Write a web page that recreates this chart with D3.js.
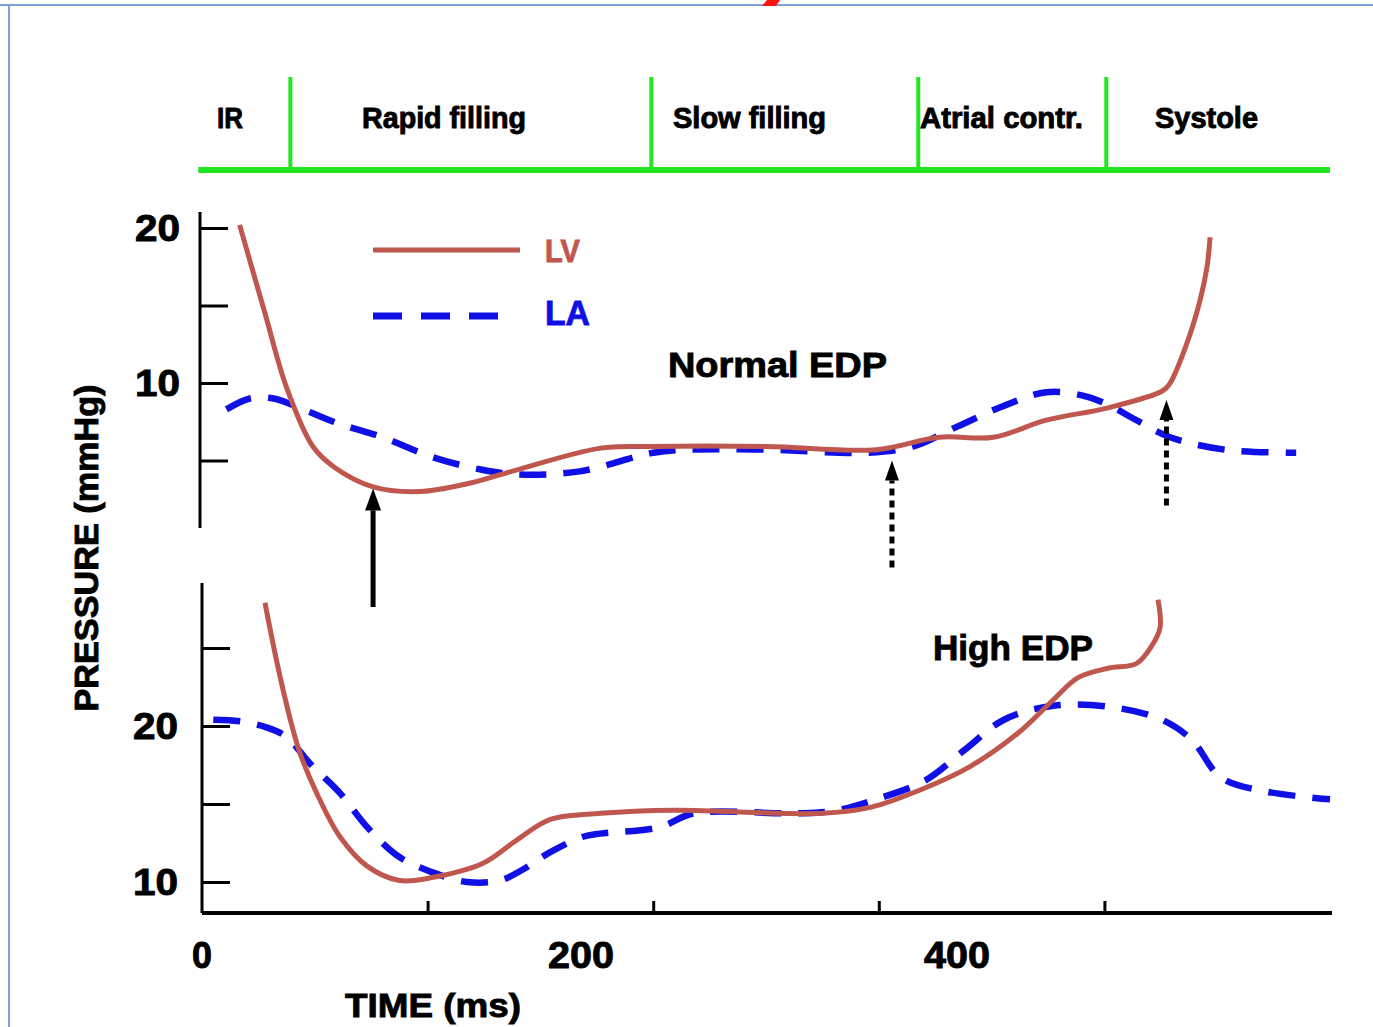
<!DOCTYPE html>
<html>
<head>
<meta charset="utf-8">
<script src="https://cdn.jsdelivr.net/npm/d3@7"></script>
<style>
  html, body { margin: 0; padding: 0; background: #fff; }
  svg { display: block; }
  text { font-family: "Liberation Sans", Arial, sans-serif; font-weight: bold; }
</style>
</head>
<body>
<svg id="chart" width="1373" height="1027"></svg>
<script>
// ---------- data ----------
const phaseNames = ["IR", "Rapid filling", "Slow filling", "Atrial contr.", "Systole"];
const phaseBounds = [47, 239, 381, 481];          // ms, phase separators
const timeTicks = [120, 240, 360, 480];           // ms, tick marks on time axis
const timeLabels = [0, 200, 400];                 // ms, labelled values
const normalTicks = [5, 10, 15, 20];              // mmHg
const normalLabels = [10, 20];
const highTicks = [10, 15, 20, 25];               // mmHg
const highLabels = [10, 20];

// Normal EDP (time ms, pressure mmHg)
const lvNormalT = [20, 33.5, 45, 59, 70, 91, 116, 141, 162, 212, 238, 300, 359, 392, 421, 449, 482, 511, 515, 524, 531, 534.6, 536.2];
const lvNormalP = [20.2, 14.5, 9.7, 5.9, 4.6, 3.3, 3.0, 3.5, 4.2, 5.8, 5.9, 5.9, 5.7, 6.5, 6.5, 7.6, 8.4, 9.5, 10.0, 12.6, 15.4, 17.5, 19.4];
const laNormalT = [13, 25.5, 38, 48, 70, 96, 123, 149, 168, 201, 240, 259, 300, 354, 378, 402, 426, 449, 468, 482, 497, 515, 544, 582];
const laNormalP = [8.3, 9.0, 9.0, 8.6, 7.5, 6.5, 5.2, 4.4, 4.1, 4.3, 5.5, 5.7, 5.7, 5.5, 5.9, 7.2, 8.5, 9.4, 9.2, 8.6, 7.6, 6.5, 5.7, 5.5];

// High EDP
const lvHighT = [33.5, 40, 47, 52, 61, 73.4, 88, 105, 123, 149.5, 167.6, 185, 212, 251, 330, 356, 382, 408.5, 434.6, 453, 466, 482, 497, 505, 509.6, 508.5];
const lvHighP = [27.9, 24.0, 20.4, 18.3, 15.7, 12.9, 11.0, 10.1, 10.3, 11.2, 12.7, 14.0, 14.4, 14.6, 14.4, 14.8, 15.9, 17.4, 19.6, 21.7, 23.1, 23.7, 24.0, 25.1, 26.3, 28.1];
const laHighT = [6, 20, 34.6, 45, 57.4, 73.4, 88, 105, 123, 141, 158.5, 170.7, 185, 202.7, 211.7, 243, 261.7, 316.5, 337.8, 358.5, 384.6, 406, 426.6, 453, 484.6, 510.6, 526.6, 542, 566, 600];
const laHighP = [20.4, 20.3, 19.9, 19.3, 17.6, 15.7, 13.5, 11.6, 10.6, 10.0, 10.1, 10.8, 11.9, 12.9, 13.1, 13.5, 14.4, 14.4, 14.6, 15.3, 16.5, 18.5, 20.4, 21.3, 21.2, 20.4, 19.1, 16.7, 15.8, 15.3];

// arrows: time (ms), tip and tail in Normal-panel mmHg
const arrowT = [91, 367, 513];
const arrowTip = [3.2, 5.0, 8.9];
const arrowTail = [-4.45, -1.9, 2.1];
const arrowDotted = [false, true, true];

// ---------- layout / style ----------
const LV_COLOR = "#c0574f";
const LA_COLOR = "#1010e6";
const GREEN = "#22e622";
const phaseLabelX = [217, 362, 673, 920, 1155];
const phaseLabelW = [26, 164, 153, 163, 103];

const svg = d3.select("#chart");
svg.append("rect").attr("width", 1373).attr("height", 1027).attr("fill", "#fff");

// frame
svg.append("line").attr("x1", 0).attr("x2", 1373).attr("y1", 5).attr("y2", 5)
  .attr("stroke", "#7fa3d8").attr("stroke-width", 2);
svg.append("line").attr("x1", 9).attr("x2", 9).attr("y1", 5).attr("y2", 1027)
  .attr("stroke", "#7fa3d8").attr("stroke-width", 2);
svg.append("path").attr("d", "M762,6 L767,0 L780,0 L776,6 Z").attr("fill", "#ff1010");

// scales
const x = d3.scaleLinear().domain([0, 600]).range([202, 1330]);
const yN = d3.scaleLinear().domain([0, 20]).range([538, 228]);
const yH = d3.scaleLinear().domain([10, 20]).range([882, 726]);

// heavy text helper
const heavy = sel => sel.attr("stroke", function () { return d3.select(this).attr("fill") || "#000"; })
  .attr("stroke-width", 0.9).attr("paint-order", "stroke");

// ---------- phase band ----------
const band = svg.append("g");
band.append("line").attr("x1", x(-2)).attr("x2", x(600)).attr("y1", 170).attr("y2", 170)
  .attr("stroke", GREEN).attr("stroke-width", 6);
band.selectAll("line.sep").data(phaseBounds).join("line").attr("class", "sep")
  .attr("x1", d => x(d)).attr("x2", d => x(d)).attr("y1", 77).attr("y2", 170)
  .attr("stroke", GREEN).attr("stroke-width", 4);
band.selectAll("text").data(phaseNames).join("text")
  .attr("x", (d, i) => phaseLabelX[i]).attr("y", 128)
  .attr("font-size", 29).attr("fill", "#000")
  .attr("textLength", (d, i) => phaseLabelW[i]).attr("lengthAdjust", "spacingAndGlyphs")
  .text(d => d).call(heavy);

// ---------- axes ----------
// Normal panel y axis
svg.append("line").attr("x1", 200).attr("x2", 200).attr("y1", 212).attr("y2", 528)
  .attr("stroke", "#000").attr("stroke-width", 3);
const axN = svg.append("g").attr("transform", "translate(200,0)")
  .call(d3.axisRight(yN).tickValues(normalTicks).tickSize(28).tickFormat(""));
axN.select(".domain").remove();
axN.selectAll(".tick line").attr("stroke", "#000").attr("stroke-width", 3);
svg.selectAll("text.yn").data(normalLabels).join("text").attr("class", "yn")
  .attr("x", 180).attr("y", d => yN(d) + 13).attr("text-anchor", "end").attr("fill", "#000")
  .attr("font-size", 36).attr("textLength", 45).attr("lengthAdjust", "spacingAndGlyphs")
  .text(d => d).call(heavy);

// High panel y axis
svg.append("line").attr("x1", 202).attr("x2", 202).attr("y1", 583).attr("y2", 913)
  .attr("stroke", "#000").attr("stroke-width", 3);
const axH = svg.append("g").attr("transform", "translate(202,0)")
  .call(d3.axisRight(yH).tickValues(highTicks).tickSize(28).tickFormat(""));
axH.select(".domain").remove();
axH.selectAll(".tick line").attr("stroke", "#000").attr("stroke-width", 3);
svg.selectAll("text.yh").data(highLabels).join("text").attr("class", "yh")
  .attr("x", 178).attr("y", d => yH(d) + 13).attr("text-anchor", "end").attr("fill", "#000")
  .attr("font-size", 36).attr("textLength", 45).attr("lengthAdjust", "spacingAndGlyphs")
  .text(d => d).call(heavy);

// time axis
svg.append("line").attr("x1", 202).attr("x2", 1332).attr("y1", 913).attr("y2", 913)
  .attr("stroke", "#000").attr("stroke-width", 4);
const axT = svg.append("g").attr("transform", "translate(0,913)")
  .call(d3.axisTop(x).tickValues(timeTicks).tickSize(12).tickFormat(""));
axT.select(".domain").remove();
axT.selectAll(".tick line").attr("stroke", "#000").attr("stroke-width", 3);
svg.selectAll("text.xt").data(timeLabels).join("text").attr("class", "xt")
  .attr("x", d => x(d) + (d === 0 ? 0 : 3)).attr("y", 968).attr("text-anchor", "middle")
  .attr("font-size", 36).attr("fill", "#000")
  .attr("textLength", d => d === 0 ? 20 : 66).attr("lengthAdjust", "spacingAndGlyphs")
  .text(d => d).call(heavy);

// axis titles
svg.append("text").attr("x", 345).attr("y", 1017).attr("font-size", 34).attr("fill", "#000")
  .attr("textLength", 176).attr("lengthAdjust", "spacingAndGlyphs").text("TIME (ms)").call(heavy);
svg.append("text").attr("transform", "translate(98,548) rotate(-90)")
  .attr("text-anchor", "middle").attr("font-size", 34).attr("fill", "#000")
  .attr("textLength", 327).attr("lengthAdjust", "spacingAndGlyphs").text("PRESSURE (mmHg)").call(heavy);

// ---------- curves ----------
const line = (yScale) => d3.line()
  .x(d => x(d[0])).y(d => yScale(d[1]))
  .curve(d3.curveCatmullRom.alpha(0.5));
const zip = (a, b) => a.map((v, i) => [v, b[i]]);

function drawLA(data, yScale) {
  svg.append("path").datum(data).attr("d", line(yScale))
    .attr("fill", "none").attr("stroke", LA_COLOR).attr("stroke-width", 6.5)
    .attr("stroke-dasharray", "27,17");
}
function drawLV(data, yScale) {
  svg.append("path").datum(data).attr("d", line(yScale))
    .attr("fill", "none").attr("stroke", LV_COLOR).attr("stroke-width", 5)
    .attr("stroke-linecap", "butt");
}
drawLA(zip(laNormalT, laNormalP), yN);
drawLV(zip(lvNormalT, lvNormalP), yN);
drawLA(zip(laHighT, laHighP), yH);
drawLV(zip(lvHighT, lvHighP), yH);

// ---------- legend & annotations ----------
svg.append("line").attr("x1", 373).attr("x2", 520).attr("y1", 250).attr("y2", 250)
  .attr("stroke", LV_COLOR).attr("stroke-width", 5);
svg.append("line").attr("x1", 373).attr("x2", 502).attr("y1", 316).attr("y2", 316)
  .attr("stroke", LA_COLOR).attr("stroke-width", 7).attr("stroke-dasharray", "29,19");
svg.append("text").attr("x", 545).attr("y", 262).attr("font-size", 32).attr("fill", LV_COLOR)
  .attr("textLength", 35).attr("lengthAdjust", "spacingAndGlyphs").text("LV").call(heavy);
svg.append("text").attr("x", 545).attr("y", 325).attr("font-size", 35).attr("fill", LA_COLOR)
  .attr("textLength", 45).attr("lengthAdjust", "spacingAndGlyphs").text("LA").call(heavy);
svg.append("text").attr("x", 668).attr("y", 377).attr("font-size", 35).attr("fill", "#000")
  .attr("textLength", 219).attr("lengthAdjust", "spacingAndGlyphs").text("Normal  EDP").call(heavy);
svg.append("text").attr("x", 933).attr("y", 660).attr("font-size", 35).attr("fill", "#000")
  .attr("textLength", 160).attr("lengthAdjust", "spacingAndGlyphs").text("High EDP").call(heavy);

// arrows
arrowT.forEach((t, i) => {
  const ax = x(t), tip = yN(arrowTip[i]), tail = yN(arrowTail[i]);
  const headH = arrowDotted[i] ? 20 : 22, headW = arrowDotted[i] ? 7 : 8;
  svg.append("line").attr("x1", ax).attr("x2", ax).attr("y1", tail).attr("y2", tip + headH)
    .attr("stroke", "#000").attr("stroke-width", 5)
    .attr("stroke-dasharray", arrowDotted[i] ? "7,5" : null);
  svg.append("path")
    .attr("d", `M${ax},${tip} L${ax - headW},${tip + headH} L${ax + headW},${tip + headH} Z`)
    .attr("fill", "#000");
});
</script>
</body>
</html>
